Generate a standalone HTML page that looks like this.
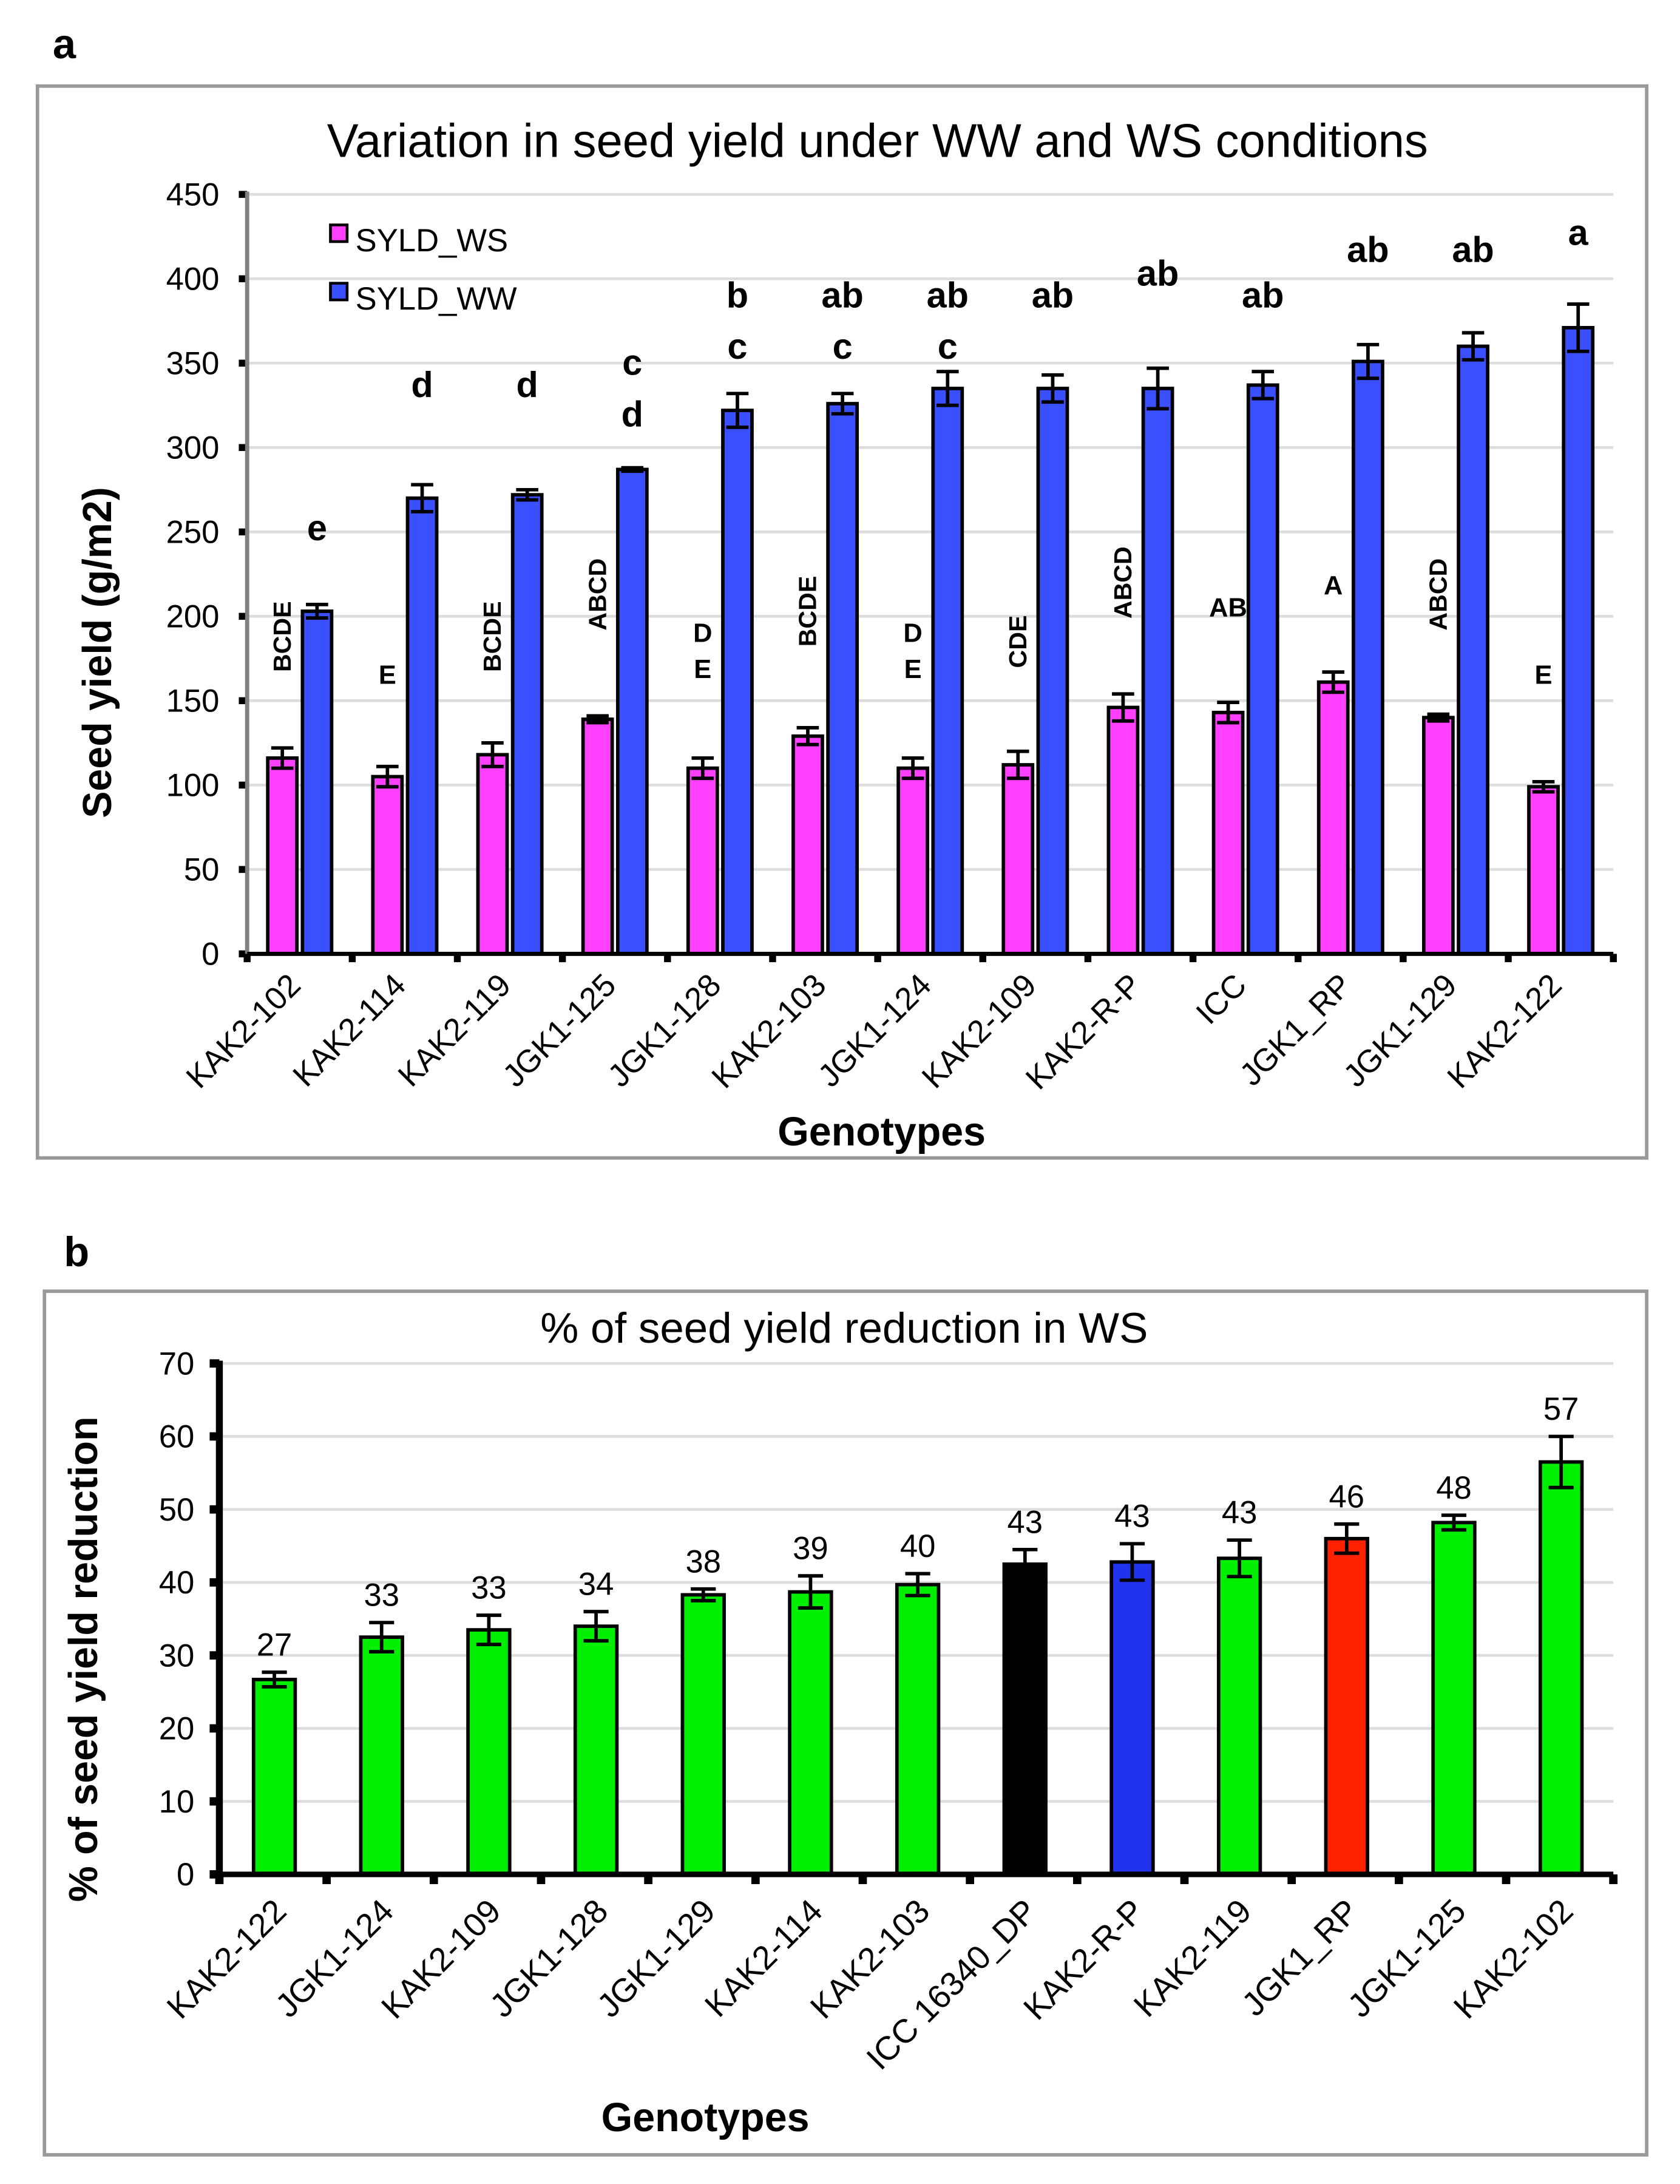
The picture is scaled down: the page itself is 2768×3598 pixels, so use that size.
<!DOCTYPE html>
<html><head><meta charset="utf-8"><style>
html,body{margin:0;padding:0;background:#fff}
svg{display:block}
text{font-family:"Liberation Sans",Arial,sans-serif}
</style></head><body>
<svg id="fig" width="2768" height="3598" viewBox="0 0 1210 1573" preserveAspectRatio="none" xmlns="http://www.w3.org/2000/svg">
<text x="38" y="42" font-size="30" font-weight="bold">a</text>
<rect x="27" y="62" width="1159" height="772" fill="none" stroke="#999" stroke-width="2.5"/>
<text x="632" y="113" font-size="34" text-anchor="middle">Variation in seed yield under WW and WS conditions</text>
<g id="ga"></g>
<text font-size="29" font-weight="bold" text-anchor="middle" transform="translate(80,470) rotate(-90)">Seed yield (g/m2)</text>
<text x="635" y="825" font-size="29" font-weight="bold" text-anchor="middle">Genotypes</text>
<rect x="238" y="162" width="12" height="12" fill="#ff40ff" stroke="#000" stroke-width="2"/>
<text x="256" y="181" font-size="23">SYLD_WS</text>
<rect x="238" y="204" width="12" height="12" fill="#3a50ff" stroke="#000" stroke-width="2"/>
<text x="256" y="223" font-size="23">SYLD_WW</text>

<text x="46" y="912" font-size="30" font-weight="bold">b</text>
<rect x="32" y="930" width="1154" height="622" fill="none" stroke="#999" stroke-width="2.5"/>
<text x="608" y="967" font-size="31" text-anchor="middle">% of seed yield reduction in WS</text>
<g id="gb"></g>
<text font-size="29" font-weight="bold" text-anchor="middle" transform="translate(70,1195) rotate(-90)">% of seed yield reduction</text>
<text x="508" y="1535" font-size="29" font-weight="bold" text-anchor="middle">Genotypes</text>
</svg>
<script>
const catsA = ["KAK2-102","KAK2-114","KAK2-119","JGK1-125","JGK1-128","KAK2-103","JGK1-124","KAK2-109","KAK2-R-P","ICC","JGK1_RP","JGK1-129","KAK2-122"];
const wsA = [116,105,118,139,110,129,110,112,146,143,161,140,99];
const wwA = [203,270,272,287,322,326,335,335,335,337,351,360,371];
const wsErrA = [6,6,7,2,6,5,6,8,8,6,6,2,3];
const wwErrA = [4,8,3,1,10,6,10,8,12,8,10,8,14];
const ticksA = [0,50,100,150,200,250,300,350,400,450];
const wwLetters = [["e"],["d"],["d"],["c","d"],["b","c"],["ab","c"],["ab","c"],["ab"],["ab"],["ab"],["ab"],["ab"],["a"]];
const wwLetterVals = [245,330,330,343,383,383,383,383,396,383,410,410,420];
const wsLetters = ["BCDE","E","BCDE","ABCD","D E","BCDE","D E","CDE","ABCD","AB","A","ABCD","E"];
const wsLetterVals = [188,160,188,213,175,203,175,185,220,200,213,213,160];
const wsLetterVertical = [true,false,true,true,false,true,false,true,true,false,false,true,false];

const catsB = ["KAK2-122","JGK1-124","KAK2-109","JGK1-128","JGK1-129","KAK2-114","KAK2-103","ICC 16340_DP","KAK2-R-P","KAK2-119","JGK1_RP","JGK1-125","KAK2-102"];
const valsB = [26.7,32.5,33.5,34,38.3,38.7,39.7,42.5,42.8,43.3,46,48.2,56.5];
const errB = [1,2,2,2,0.8,2.2,1.5,2,2.5,2.5,2,1,3.5];
const labelsB = ["27","33","33","34","38","39","40","43","43","43","46","48","57"];
const colorsB = ["#00ee00","#00ee00","#00ee00","#00ee00","#00ee00","#00ee00","#00ee00","#000000","#2233ee","#00ee00","#ff2200","#00ee00","#00ee00"];
const ticksB = [0,10,20,30,40,50,60,70];

const NS="http://www.w3.org/2000/svg";
function mk(parent,tag,attrs,txt){const e=document.createElementNS(NS,tag);for(const k in attrs)e.setAttribute(k,attrs[k]);if(txt!==undefined)e.textContent=txt;parent.appendChild(e);return e;}

// ---- chart A
const ga=document.getElementById('ga');
const aL=178,aR=1162,aT=140,aB=687,aMax=450;
const yA=v=>aB-(v/aMax)*(aB-aT);
const bandA=(aR-aL)/catsA.length;
const xA=i=>aL+bandA*(i+0.5);
ticksA.forEach(t=>{
  if(t>0){const g=mk(ga,'line',{x1:aL,x2:aR,y1:yA(t),y2:yA(t),stroke:'#ddd','stroke-width':2});
  
  }
  const tk=mk(ga,'rect',{x:aL-6,y:yA(t)-2.5,width:6,height:5,fill:'#000'});
  
  
  const lb=mk(ga,'text',{x:aL-20,y:yA(t)+8,'font-size':23,'text-anchor':'end'},String(t));
  
  
});
const axA=mk(ga,'line',{x1:aL,x2:aL,y1:aT-2,y2:aB,stroke:'#808080','stroke-width':3});


const bwA=21;
catsA.forEach((c,i)=>{
  const cx=xA(i);
  const xs=cx-bwA-2, xw=cx+2;
  const r1=mk(ga,'rect',{x:xs,y:yA(wsA[i]),width:bwA,height:aB-yA(wsA[i]),fill:'#ff40ff',stroke:'#000','stroke-width':2.5});
  
  
  const r2=mk(ga,'rect',{x:xw,y:yA(wwA[i]),width:bwA,height:aB-yA(wwA[i]),fill:'#3a50ff',stroke:'#000','stroke-width':2.5});
  
  
  [[xs+bwA/2,wsA[i],wsErrA[i]],[xw+bwA/2,wwA[i],wwErrA[i]]].forEach(([ex,v,e])=>{
    const p=mk(ga,'path',{d:`M${ex},${yA(v-e)}V${yA(v+e)}M${ex-8},${yA(v+e)}H${ex+8}M${ex-8},${yA(v-e)}H${ex+8}`,stroke:'#000','stroke-width':2.5,fill:'none'});
    
    
  });
  wwLetters[i].forEach((L,k)=>{
    const t=mk(ga,'text',{x:xw+bwA/2,y:yA(wwLetterVals[i])+k*37,'font-size':26,'font-weight':'bold','text-anchor':'middle'},L);
    
    
  });
  const lx=xs+bwA/2, ly=yA(wsLetterVals[i]);
  let t;
  if(wsLetterVertical[i]){
    t=mk(ga,'text',{'font-size':18,'font-weight':'bold','text-anchor':'middle',transform:`translate(${lx+6},${ly}) rotate(-90)`},wsLetters[i]);
  } else if(wsLetters[i].indexOf(' ')>0){
    const parts=wsLetters[i].split(' ');
    t=mk(ga,'text',{x:lx,y:ly-12,'font-size':19,'font-weight':'bold','text-anchor':'middle'},parts[0]);
    const t2=mk(ga,'text',{x:lx,y:ly+14,'font-size':19,'font-weight':'bold','text-anchor':'middle'},parts[1]);
    
    
  } else {
    t=mk(ga,'text',{x:lx,y:ly,'font-size':19,'font-weight':'bold','text-anchor':'middle'},wsLetters[i]);
  }
  
  
  const xl=mk(ga,'text',{'font-size':23,'text-anchor':'end',transform:`translate(${cx+2},${aB+24}) rotate(-45)`},c);
  
  
});
for(let i=0;i<=catsA.length;i++){
  const tk=mk(ga,'rect',{x:aL+bandA*i-2.5,y:aB,width:5,height:6,fill:'#000'});
  
  
}
const xaxA=mk(ga,'line',{x1:aL,x2:aR,y1:aB,y2:aB,stroke:'#000','stroke-width':3});



// ---- chart B
const gb=document.getElementById('gb');
const bL=158,bR=1162,bT=982,bB=1350,bMax=70;
const yB=v=>bB-(v/bMax)*(bB-bT);
const bandB=(bR-bL)/catsB.length;
const xB=i=>bL+bandB*(i+0.5);
ticksB.forEach(t=>{
  if(t>0){const g=mk(gb,'line',{x1:bL,x2:bR,y1:yB(t),y2:yB(t),stroke:'#ddd','stroke-width':2});
  
  }
  const tk=mk(gb,'rect',{x:bL-7,y:yB(t)-3,width:7,height:6,fill:'#000'});
  
  
  const lb=mk(gb,'text',{x:bL-18,y:yB(t)+8,'font-size':23,'text-anchor':'end'},String(t));
  
  
});
const axB=mk(gb,'line',{x1:bL,x2:bL,y1:bT-2,y2:bB,stroke:'#000','stroke-width':5});


const bwB=30;
catsB.forEach((c,i)=>{
  const cx=xB(i)+1;
  const r=mk(gb,'rect',{x:cx-bwB/2,y:yB(valsB[i]),width:bwB,height:bB-yB(valsB[i]),fill:colorsB[i],stroke:'#000','stroke-width':2.5});
  
  
  const v=valsB[i],e=errB[i];
  const p=mk(gb,'path',{d:`M${cx},${yB(v-e)}V${yB(v+e)}M${cx-9},${yB(v+e)}H${cx+9}M${cx-9},${yB(v-e)}H${cx+9}`,stroke:'#000','stroke-width':2.5,fill:'none'});
  
  
  const vl=mk(gb,'text',{x:cx,y:yB(v+e)-12,'font-size':23,'text-anchor':'middle'},labelsB[i]);
  
  
  const xl=mk(gb,'text',{'font-size':24,'text-anchor':'end',transform:`translate(${cx+10},${bB+28}) rotate(-45)`},c);
  
  
});
for(let i=0;i<=catsB.length;i++){
  const tk=mk(gb,'rect',{x:bL+bandB*i-3,y:bB,width:6,height:7,fill:'#000'});
  
  
}
const xaxB=mk(gb,'line',{x1:bL,x2:bR,y1:bB,y2:bB,stroke:'#000','stroke-width':4});


</script>
</body></html>
